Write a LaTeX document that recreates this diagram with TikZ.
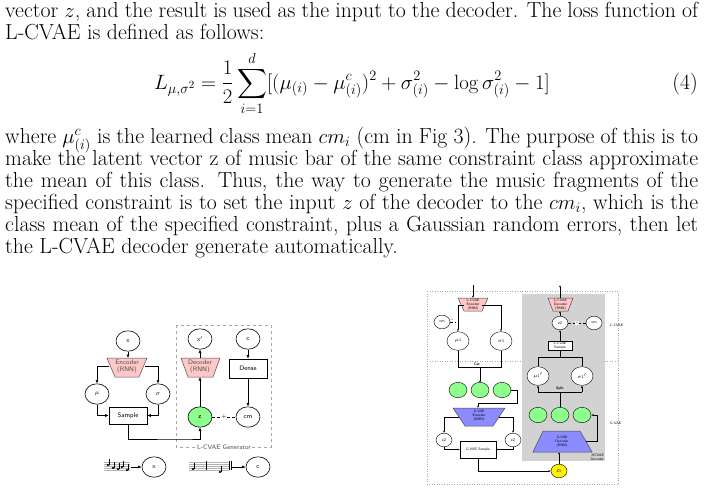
\documentclass[tikz,border=0pt]{standalone}
\usepackage{amsmath}
\usetikzlibrary{arrows.meta,shapes.geometric}
\begin{document}
\begin{tikzpicture}[x=1pt,y=-1pt,
 txt/.style={anchor=base west,inner sep=0,font=\fontsize{21.8}{22}\selectfont},
 circ/.style={draw,line width=0.6pt,ellipse,minimum width=#1,minimum height=#1*0.85,inner sep=0,font=\sffamily\fontsize{6.5}{7.5}\selectfont},
 circ/.default=24,
 sc/.style={draw,line width=0.4pt,ellipse,minimum width=#1,minimum height=#1*0.85,inner sep=0,font=\sffamily\fontsize{4}{4.5}\selectfont},
 sc/.default=16,
 box/.style={draw,line width=0.6pt,rectangle,inner sep=0,font=\sffamily\fontsize{6.5}{7.5}\selectfont},
 lab/.style={inner sep=0,font=\sffamily\fontsize{6.5}{7}\selectfont},
 slab/.style={inner sep=0,font=\sffamily\fontsize{3.6}{3.9}\selectfont,align=center},
 ar/.style={-{Latex[length=3.5pt,width=3pt]},line width=0.6pt},
 sar/.style={-{Latex[length=2.2pt,width=2pt]},line width=0.45pt},
 pinkf/.style={fill=red!22,draw=black!70,line width=0.5pt},
 bluef/.style={fill=blue!45!white,draw=black!70,line width=0.5pt}]
\useasboundingbox (0,0) rectangle (705,491);
% ---- text ----
\node[txt] (l1) at (5,17) {\makebox[693pt][s]{vector $z$, and the result is used as the input to the decoder. The loss function of}};
\node[txt] (l2) at (5,39) {L-CVAE is defined as follows:};
\node[anchor=base,inner sep=0,font=\fontsize{21.8}{22}\selectfont] (eq) at (352,89) {$\displaystyle L_{\mu,\sigma^2}=\frac{1}{2}\sum_{i=1}^{d}[(\mu_{(i)}-\mu^c_{(i)})^2+\sigma^2_{(i)}-\log\sigma^2_{(i)}-1]$};
\node[txt,anchor=base east] (num) at (698,89) {(4)};
\node[txt] (l3) at (5,143) {\makebox[693pt][s]{where $\mu^c_{(i)}$ is the learned class mean $cm_i$ (cm in Fig 3). The purpose of this is to}};
\node[txt] (l4) at (5,165) {\makebox[693pt][s]{make the latent vector z of music bar of the same constraint class approximate}};
\node[txt] (l5) at (5,187) {\makebox[693pt][s]{the mean of this class. Thus, the way to generate the music fragments of the}};
\node[txt] (l6) at (5,209) {\makebox[693pt][s]{specified constraint is to set the input $z$ of the decoder to the $cm_i$, which is the}};
\node[txt] (l7) at (5,231) {\makebox[693pt][s]{class mean of the specified constraint, plus a Gaussian random errors, then let}};
\node[txt] (l8) at (5,253) {the L-CVAE decoder generate automatically.};
% ---- left figure ----
\draw[dashed,gray!70,line width=0.5pt] (176,325) rectangle (271,447);
\node[lab,fill=white,text=black!70,inner xsep=1pt] (gen) at (224,447) {L-CVAE Generator};
\node[circ] (x) at (128,341) {x};
\fill[pinkf] (107,358) -- (147,358) -- (139,377) -- (115,377) -- cycle;
\node[lab,align=center,text=black!70] (enc) at (127,367) {Encoder\\(RNN)};
\node[circ] (mu) at (97,394) {$\mu$};
\node[circ] (sg) at (158,394) {$\sigma$};
\node[box,minimum width=38pt,minimum height=17pt] (samp) at (128,415.5) {Sample};
\node[circ] (xp) at (200,339) {x$'$};
\node[circ] (c) at (248,339) {c};
\fill[pinkf] (181,358) -- (220,358) -- (213,377) -- (188,377) -- cycle;
\node[lab,align=center,text=black!70] (dec) at (200,367) {Decoder\\(RNN)};
\node[box,minimum width=38pt,minimum height=19pt] (dense) at (248,368.5) {Dense};
\node[circ,fill=green!45] (z) at (200,417) {z};
\node[circ] (cm) at (248,417) {cm};
\draw[ar] (x) -- (128,358);
\draw[ar] (109,366) -| (mu);
\draw[ar] (145,366) -| (sg);
\draw[ar] (mu) |- (samp.west);
\draw[ar] (sg) |- (samp.east);
\draw[ar] (samp.south) |- (185,439) -| (z.south);
\draw[ar] (z) -- (200,377);
\draw[ar] (200,358) -- (xp);
\draw[ar] (c) -- (dense);
\draw[ar] (dense) -- (cm);
\draw[densely dashed,line width=0.5pt] (z) -- node[lab,fill=white,inner sep=0.5pt]{+} (cm);
% staffs
\foreach \i in {0,...,4}{\draw[gray!60,line width=0.35pt] (104,462+\i*2) -- (130,462+\i*2); \draw[gray!60,line width=0.35pt] (189,462+\i*2) -- (229,462+\i*2);}
\foreach \px/\py in {108/465,113/468,118/469,122/467,127/470}{\fill (\px,\py) ellipse (1.4 and 1.1); \draw[line width=0.35pt] (\px+1.3,\py) -- (\px+1.3,\py-6);}
\foreach \px/\py in {193/469,220/472}{\fill (\px,\py) ellipse (1.4 and 1.1); \draw[line width=0.35pt] (\px+1.3,\py) -- (\px+1.3,\py-6);}
\draw[line width=0.35pt] (206,461) -- (206,470) (229,461)--(229,470) (231,461)--(231,470);
\node[circ] (bx) at (154,467) {x};
\node[circ] (bc) at (258,467) {c};
\draw[ar] (131,467) -- (bx);
\draw[ar] (232,467) -- (bc);
% ---- right figure ----
\draw[dotted,gray!70,line width=0.5pt] (427,291) rectangle (618,484);
\draw[dotted,gray!70,line width=0.5pt] (427,361) -- (618,361);
\fill[gray!35] (522,294) rectangle (605,461);
\fill[pinkf] (458,298) -- (488,298) -- (482,311) -- (464,311) -- cycle;
\node[slab] (lenc) at (473,304.5) {L-CVAE\\Encoder\\(RNN)};
\draw[sar] (473,285) -- (473,298);
\node[sc,fill=white] (cm1) at (442,322) {cm};
\node[sc=22,fill=white] (mu1) at (458,341) {$\mu$1};
\node[sc=22,fill=white] (s1) at (501,341) {$\sigma$1};
\draw[sar] (464,305) -| (mu1);
\draw[sar] (482,305) -| (s1);
\draw[densely dashed,line width=0.4pt] (cm1) -- (456,322);
\node[slab] at (452,320) {+};
\draw[line width=0.45pt] (mu1) -- (458,367) -- (501,367) -- (s1);
\node[slab] (cat) at (477,364) {\textbf{Cat}};
\draw[sar] (480,367) -- (480,383);
\node[sc=18,fill=green!45] (g1) at (458,390) {};
\node[sc=18,fill=green!45] (g2) at (480,390) {};
\node[sc=18,fill=green!45] (g3) at (502,390) {};
\draw[sar] (g3) -- (517,390) -- (517,403) -- (478,403) -- (478,408);
\fill[bluef] (453,408) -- (505,408) -- (493,426) -- (465,426) -- cycle;
\node[slab] (genc) at (479,416) {G-VAE\\Encoder\\(RNN)};
\node[sc,fill=white] (e2a) at (444,440) {e2};
\node[sc,fill=white] (e2b) at (513,440) {e2};
\draw[sar] (459,417) -| (e2a);
\draw[sar] (499,417) -| (e2b);
\node[draw,fill=white,line width=0.45pt,minimum width=36pt,minimum height=17pt,slab] (gs) at (478,449.5) {G-VAE Sample};
\draw[sar] (e2a) |- (gs.west);
\draw[sar] (e2b) |- (gs.east);
\node[sc=16,fill=yellow] (z1) at (559,471) {Z1};
\draw[sar] (gs.south) |- (z1.west);
% decoder side
\fill[pinkf] (548,298) -- (573,298) -- (568,311) -- (553,311) -- cycle;
\node[slab] (ldec) at (560.5,304.5) {L-CVAE\\Decoder\\(RNN)};
\draw[sar] (560,298) -- (560,285);
\node[sc,fill=white] (z2) at (560,323) {z2};
\node[sc,fill=white] (cm2) at (594,323) {cm};
\draw[densely dashed,line width=0.4pt] (z2) -- node[slab,fill=white,inner sep=0.5pt]{+} (cm2);
\draw[sar] (z2) -- (560,311);
\node[draw,fill=white,line width=0.45pt,minimum width=24pt,minimum height=9pt,slab] (ls) at (560,345.5) {L-CVAE\\Sample};
\draw[sar] (ls) -- (z2);
\node[sc=22,fill=white] (mu1p) at (538,376) {$\mu$1$'$};
\node[sc=22,fill=white] (s1p) at (582,376) {$\sigma$1$'$};
\draw[line width=0.45pt] (mu1p) -- (538,357) -- (582,357) -- (s1p);
\draw[line width=0.45pt] (560,357) -- (ls);
\node[sc=18,fill=green!45] (h1) at (538,415) {};
\node[sc=18,fill=green!45] (h2) at (560,415) {};
\node[sc=18,fill=green!45] (h3) at (582,415) {};
\draw[line width=0.45pt] (h2) -- (560,392);
\draw[sar] (538,392) -- (mu1p);
\draw[sar] (582,392) -- (s1p);
\draw[line width=0.45pt] (538,392) -- (582,392);
\node[slab] (split) at (560,389) {\textbf{Split}};
\fill[bluef] (543,431) -- (580,431) -- (592,452) -- (533,452) -- cycle;
\node[slab] (gdec) at (562,442) {G-VAE\\Decoder\\(RNN)};
\draw[sar] (z1) -- (559,452);
\draw[sar] (586,441) -- (597,441) -- (597,415) -- (h3);
\node[slab,align=right,anchor=south east] (hc) at (604,461) {HCVAE\\Decoder};
\node[slab,anchor=west] (lv) at (610,325) {L-CVAE};
\node[slab,anchor=west] (gv) at (610,423) {G-VAE};
\end{tikzpicture}
\end{document}
